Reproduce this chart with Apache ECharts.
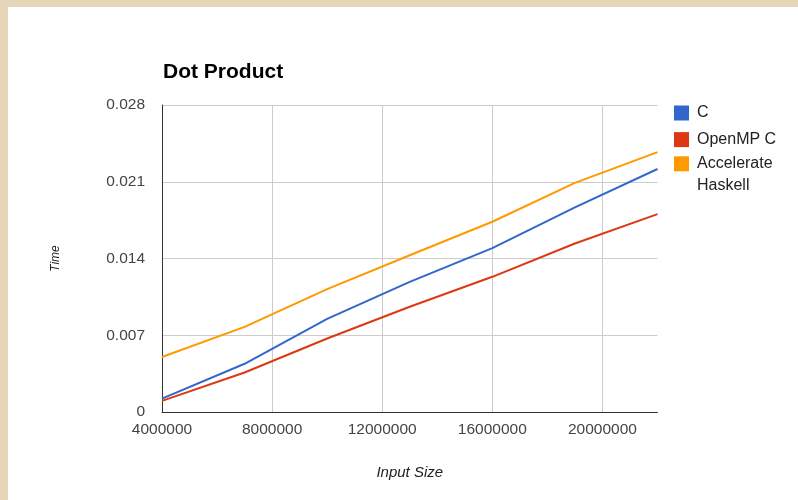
<!DOCTYPE html>
<html>
<head>
<meta charset="utf-8">
<script src="https://cdn.jsdelivr.net/npm/echarts@6/dist/echarts.min.js"></script>
<style>
html,body{margin:0;padding:0;background:#e6d5b9;}
#chart{width:798px;height:500px;}
</style>
</head>
<body>
<div id="chart"></div>
<script>
var inputSizes = [4000000, 7000000, 10000000, 13000000, 16000000, 19000000, 22000000];
var seriesNames = ['C', 'OpenMP C', 'Accelerate Haskell'];
var cTimes = [0.00122, 0.0044, 0.0085, 0.01187, 0.01495, 0.01866, 0.02216];
var openmpTimes = [0.00101, 0.0036, 0.0067, 0.0096, 0.01233, 0.01537, 0.01805];
var accelerateTimes = [0.00502, 0.00776, 0.0112, 0.0143, 0.01735, 0.0209, 0.0237];
var colors = ['#3366cc', '#dc3912', '#ff9900'];

function pairs(xs, ys) { return xs.map(function (x, i) { return [x, ys[i]]; }); }

var font = 'Arial, "Liberation Sans", sans-serif';
var chart = echarts.init(document.getElementById('chart'), null, {renderer: 'canvas'});
var lineSeries = [cTimes, openmpTimes, accelerateTimes].map(function (vals, i) {
  return {
    name: seriesNames[i], type: 'line', data: pairs(inputSizes, vals),
    showSymbol: false, symbol: 'none', smooth: false,
    lineStyle: {width: 2, color: colors[i]}, itemStyle: {color: colors[i]},
    emphasis: {disabled: true}, animation: false
  };
});

var legendText = {fontFamily: font, fontSize: 16, color: '#222', padding: [0, 0, 0, 3]};

chart.setOption({
  animation: false,
  backgroundColor: '#e6d5b9',
  color: colors,
  graphic: [{type: 'rect', left: 8, top: 7, shape: {width: 790, height: 493}, style: {fill: '#ffffff'}, z: -10, silent: true}],
  title: {
    text: 'Dot Product', left: 158, top: 57,
    textStyle: {fontFamily: font, fontSize: 21, fontWeight: 'bold', color: '#000'}
  },
  legend: [{
    orient: 'vertical', left: 674, top: 105, itemWidth: 15, itemHeight: 15, itemGap: 10.6,
    icon: 'rect', padding: 0,
    data: ['C', 'OpenMP C'],
    textStyle: Object.assign({lineHeight: 15}, legendText),
    selectedMode: false
  }, {
    orient: 'vertical', left: 674, top: 130.8, itemWidth: 15, itemHeight: 15,
    icon: 'rect', padding: 0,
    data: ['Accelerate Haskell'],
    formatter: function (n) { return '\nAccelerate\nHaskell'; },
    textStyle: Object.assign({lineHeight: 22}, legendText),
    selectedMode: false
  }],
  grid: {left: 162, top: 105, right: 140.5, bottom: 88, containLabel: false},
  xAxis: {
    type: 'value', min: 4000000, max: 22000000, interval: 4000000,
    name: 'Input Size', nameLocation: 'middle', nameGap: 53,
    nameTextStyle: {fontFamily: font, fontSize: 15, fontStyle: 'italic', color: '#222'},
    axisLine: {show: true, lineStyle: {color: '#333', width: 1}},
    axisTick: {show: false},
    axisLabel: {fontFamily: font, fontSize: 15.5, color: '#444', margin: 10, showMaxLabel: false, showMinLabel: true,
      formatter: function (v) { return String(Math.round(v)); }},
    splitLine: {show: true, showMinLine: false, showMaxLine: false, lineStyle: {color: '#cccccc', width: 1}}
  },
  yAxis: {
    type: 'value', min: 0, max: 0.028, interval: 0.007,
    name: 'Time', nameLocation: 'middle', nameGap: 100, nameRotate: 90,
    nameTextStyle: {fontFamily: font, fontSize: 12, fontStyle: 'italic', color: '#222'},
    axisLine: {show: true, lineStyle: {color: '#333', width: 1}},
    axisTick: {show: false},
    axisLabel: {fontFamily: font, fontSize: 15.5, color: '#444', margin: 17,
      formatter: function (v) { return v === 0 ? '0' : (+v.toFixed(3)).toString(); }},
    splitLine: {show: true, lineStyle: {color: '#cccccc', width: 1}}
  },
  series: lineSeries
});
</script>
</body>
</html>
